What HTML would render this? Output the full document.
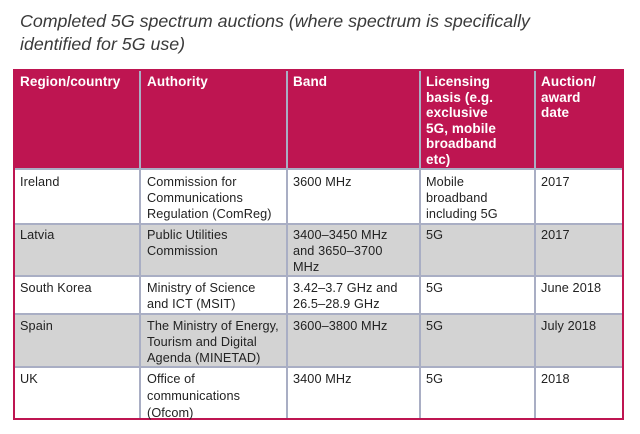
<!DOCTYPE html>
<html><head><style>
body{margin:0;width:640px;height:434px;background:#fff;position:relative;overflow:hidden;font-family:"Liberation Sans",sans-serif}
.t{position:absolute;left:20px;top:10px;font-style:italic;font-size:17.8px;line-height:23px;color:#3a3a3a}
.r{position:absolute;left:14px;width:609px}
.c{position:absolute;font-size:12.7px;line-height:16px;color:#222;letter-spacing:0.1px}
.h{color:#fff;font-weight:bold;font-size:13.5px;line-height:15.5px}
.v{position:absolute;top:70px;height:348px;width:2px;background:#a9aec4}
.hl{position:absolute;left:14px;width:609px;height:2px;background:#a9aec4}
</style></head><body>
<div class="t">Completed 5G spectrum auctions (where spectrum is specifically<br>identified for 5G use)</div>
<div class="r" style="top:70px;height:99px;background:#be1551"></div>
<div class="r" style="top:224px;height:52px;background:#d3d3d3"></div>
<div class="r" style="top:314px;height:53px;background:#d3d3d3"></div>
<div class="hl" style="top:168px"></div>
<div class="hl" style="top:223px"></div>
<div class="hl" style="top:275px"></div>
<div class="hl" style="top:313px"></div>
<div class="hl" style="top:366px"></div>
<div class="v" style="left:139px"></div>
<div class="v" style="left:286px"></div>
<div class="v" style="left:419px"></div>
<div class="v" style="left:534px"></div>
<div style="position:absolute;left:13px;top:69px;width:607px;height:347px;border:2px solid #be1551"></div>

<div class="c h" style="left:20px;top:74px">Region/country</div>
<div class="c h" style="left:147px;top:74px">Authority</div>
<div class="c h" style="left:293px;top:74px">Band</div>
<div class="c h" style="left:426px;top:74px">Licensing<br>basis (e.g.<br>exclusive<br>5G, mobile<br>broadband<br>etc)</div>
<div class="c h" style="left:541px;top:74px">Auction/<br>award<br>date</div>

<div class="c" style="left:20px;top:174px">Ireland</div>
<div class="c" style="left:147px;top:174px">Commission for<br>Communications<br>Regulation (ComReg)</div>
<div class="c" style="left:293px;top:174px">3600 MHz</div>
<div class="c" style="left:426px;top:174px">Mobile<br>broadband<br>including 5G</div>
<div class="c" style="left:541px;top:174px">2017</div>

<div class="c" style="left:20px;top:227px">Latvia</div>
<div class="c" style="left:147px;top:227px">Public Utilities<br>Commission</div>
<div class="c" style="left:293px;top:227px">3400–3450 MHz<br>and 3650–3700<br>MHz</div>
<div class="c" style="left:426px;top:227px">5G</div>
<div class="c" style="left:541px;top:227px">2017</div>

<div class="c" style="left:20px;top:280px">South Korea</div>
<div class="c" style="left:147px;top:280px">Ministry of Science<br>and ICT (MSIT)</div>
<div class="c" style="left:293px;top:280px">3.42–3.7 GHz and<br>26.5–28.9 GHz</div>
<div class="c" style="left:426px;top:280px">5G</div>
<div class="c" style="left:541px;top:280px">June 2018</div>

<div class="c" style="left:20px;top:318px">Spain</div>
<div class="c" style="left:147px;top:318px">The Ministry of Energy,<br>Tourism and Digital<br>Agenda (MINETAD)</div>
<div class="c" style="left:293px;top:318px">3600–3800 MHz</div>
<div class="c" style="left:426px;top:318px">5G</div>
<div class="c" style="left:541px;top:318px">July 2018</div>

<div class="c" style="left:20px;top:371px">UK</div>
<div class="c" style="left:147px;top:371px;line-height:17px">Office of<br>communications<br>(Ofcom)</div>
<div class="c" style="left:293px;top:371px">3400 MHz</div>
<div class="c" style="left:426px;top:371px">5G</div>
<div class="c" style="left:541px;top:371px">2018</div>
</body></html>
